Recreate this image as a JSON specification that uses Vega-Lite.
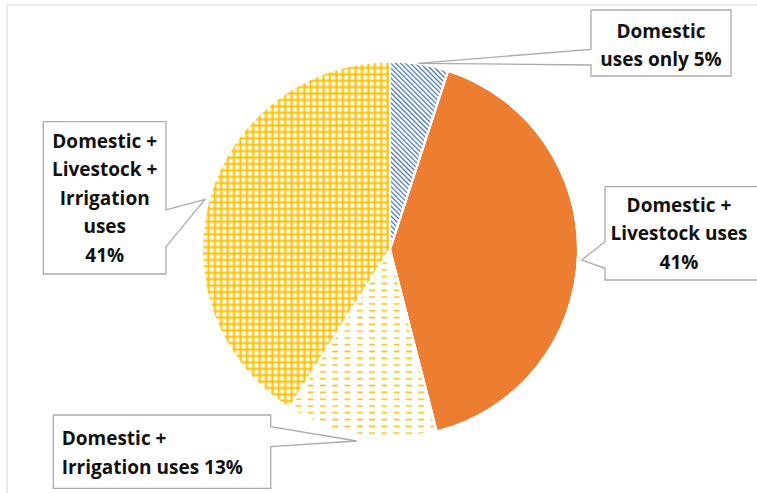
{
"$schema": "https://vega.github.io/schema/vega-lite/v6.json",
"width": 757, "height": 493, "autosize": {"type": "none"}, "padding": 0,
"background": "#ffffff",
"config": {"view": {"stroke": null}},
"datasets": {
"slices": [
{"id": 1, "category": "Domestic uses only", "value": 5},
{"id": 2, "category": "Domestic + Livestock uses", "value": 41},
{"id": 3, "category": "Domestic + Irrigation uses", "value": 13},
{"id": 4, "category": "Domestic + Livestock + Irrigation uses", "value": 41}
],
"frame": [{"x": -203.72, "y": 130.05, "x2": 271.3, "y2": -239.6}],
"bubbles": [
{"b": 1, "s": 1, "x": 106.91, "y": 127.39},
{"b": 1, "s": 2, "x": 181.38, "y": 127.39},
{"b": 1, "s": 3, "x": 181.38, "y": 92.29},
{"b": 1, "s": 4, "x": 106.91, "y": 92.29},
{"b": 1, "s": 5, "x": 106.91, "y": 98.14},
{"b": 1, "s": 6, "x": 15.05, "y": 99.04},
{"b": 1, "s": 7, "x": 106.91, "y": 106.49},
{"b": 1, "s": 8, "x": 106.91, "y": 127.39},
{"b": 4, "s": 1, "x": -184.41, "y": 67.98},
{"b": 4, "s": 2, "x": -119.15, "y": 67.98},
{"b": 4, "s": 3, "x": -119.15, "y": 21.01},
{"b": 4, "s": 4, "x": -98.4, "y": 26.7},
{"b": 4, "s": 5, "x": -119.15, "y": 1.49},
{"b": 4, "s": 6, "x": -119.15, "y": -13.03},
{"b": 4, "s": 7, "x": -184.41, "y": -13.03},
{"b": 4, "s": 8, "x": -184.41, "y": 67.98},
{"b": 2, "s": 1, "x": 114.36, "y": 33.4},
{"b": 2, "s": 2, "x": 207.45, "y": 33.4},
{"b": 2, "s": 3, "x": 207.45, "y": -16.22},
{"b": 2, "s": 4, "x": 114.36, "y": -16.22},
{"b": 2, "s": 5, "x": 114.36, "y": -10.0},
{"b": 2, "s": 6, "x": 101.97, "y": -5.59},
{"b": 2, "s": 7, "x": 114.36, "y": 4.15},
{"b": 2, "s": 8, "x": 114.36, "y": 33.4},
{"b": 3, "s": 1, "x": -179.1, "y": -88.03},
{"b": 3, "s": 2, "x": -63.46, "y": -88.03},
{"b": 3, "s": 3, "x": -63.46, "y": -94.26},
{"b": 3, "s": 4, "x": -17.71, "y": -101.86},
{"b": 3, "s": 5, "x": -63.46, "y": -104.89},
{"b": 3, "s": 6, "x": -63.46, "y": -127.02},
{"b": 3, "s": 7, "x": -179.1, "y": -127.02},
{"b": 3, "s": 8, "x": -179.1, "y": -88.03}
],
"labels": [
{"id": 1, "text": "Domestic\nuses only 5%", "x": 144.15, "y": 112.66},
{"id": 2, "text": "Domestic +\nLivestock uses\n41%", "x": 153.72, "y": 20.11},
{"id": 3, "text": "Domestic +\nIrrigation uses 13%", "x": -174.63, "y": -103.99},
{"id": 4, "text": "Domestic +\nLivestock +\nIrrigation\nuses\n41%", "x": -151.76, "y": 54.15}
]
},
"layer": [
{
"data": {"name": "frame"},
"mark": {"type": "rect", "fill": "transparent", "stroke": "#d9d9d9", "strokeWidth": 1},
"encoding": {
"x": {"field": "x", "type": "quantitative", "scale": {"domain": [-207.45, 195.21], "nice": false, "zero": false}, "axis": null},
"x2": {"field": "x2"},
"y": {"field": "y", "type": "quantitative", "scale": {"domain": [-129.52, 132.71], "nice": false, "zero": false}, "axis": null},
"y2": {"field": "y2"}
}
},
{
"data": {"name": "slices"},
"mark": {"type": "arc", "outerRadius": 188, "stroke": "#ffffff", "strokeWidth": 2},
"encoding": {
"theta": {"field": "value", "type": "quantitative", "stack": true},
"order": {"field": "id", "type": "quantitative"},
"x": {"datum": 0, "type": "quantitative", "scale": {"domain": [-207.45, 195.21], "nice": false, "zero": false}, "axis": null},
"y": {"datum": 0, "type": "quantitative", "scale": {"domain": [-129.52, 132.71], "nice": false, "zero": false}, "axis": null},
"fill": {
"condition": [
{"test": "datum.id === 1", "value": {"gradient": "linear", "x1": 0, "y1": 1, "x2": 0.3693, "y2": -0.195, "stops": [
{"offset":0,"color":"#4472c4"},{"offset":0.007,"color":"#fff"},{"offset":0.013,"color":"#fff"},
{"offset":0.02,"color":"#4472c4"},{"offset":0.027,"color":"#fff"},{"offset":0.033,"color":"#fff"},
{"offset":0.04,"color":"#4472c4"},{"offset":0.047,"color":"#fff"},{"offset":0.053,"color":"#fff"},
{"offset":0.06,"color":"#4472c4"},{"offset":0.067,"color":"#fff"},{"offset":0.073,"color":"#fff"},
{"offset":0.08,"color":"#4472c4"},{"offset":0.087,"color":"#fff"},{"offset":0.093,"color":"#fff"},
{"offset":0.1,"color":"#4472c4"},{"offset":0.107,"color":"#fff"},{"offset":0.113,"color":"#fff"},
{"offset":0.12,"color":"#4472c4"},{"offset":0.127,"color":"#fff"},{"offset":0.133,"color":"#fff"},
{"offset":0.14,"color":"#4472c4"},{"offset":0.147,"color":"#fff"},{"offset":0.153,"color":"#fff"},
{"offset":0.16,"color":"#4472c4"},{"offset":0.167,"color":"#fff"},{"offset":0.173,"color":"#fff"},
{"offset":0.18,"color":"#4472c4"},{"offset":0.187,"color":"#fff"},{"offset":0.193,"color":"#fff"},
{"offset":0.2,"color":"#4472c4"},{"offset":0.207,"color":"#fff"},{"offset":0.213,"color":"#fff"},
{"offset":0.22,"color":"#4472c4"},{"offset":0.227,"color":"#fff"},{"offset":0.233,"color":"#fff"},
{"offset":0.24,"color":"#4472c4"},{"offset":0.247,"color":"#fff"},{"offset":0.253,"color":"#fff"},
{"offset":0.26,"color":"#4472c4"},{"offset":0.267,"color":"#fff"},{"offset":0.273,"color":"#fff"},
{"offset":0.28,"color":"#4472c4"},{"offset":0.287,"color":"#fff"},{"offset":0.293,"color":"#fff"},
{"offset":0.3,"color":"#4472c4"},{"offset":0.307,"color":"#fff"},{"offset":0.313,"color":"#fff"},
{"offset":0.32,"color":"#4472c4"},{"offset":0.327,"color":"#fff"},{"offset":0.333,"color":"#fff"},
{"offset":0.34,"color":"#4472c4"},{"offset":0.347,"color":"#fff"},{"offset":0.353,"color":"#fff"},
{"offset":0.36,"color":"#4472c4"},{"offset":0.367,"color":"#fff"},{"offset":0.373,"color":"#fff"},
{"offset":0.38,"color":"#4472c4"},{"offset":0.387,"color":"#fff"},{"offset":0.393,"color":"#fff"},
{"offset":0.4,"color":"#4472c4"},{"offset":0.407,"color":"#fff"},{"offset":0.413,"color":"#fff"},
{"offset":0.42,"color":"#4472c4"},{"offset":0.427,"color":"#fff"},{"offset":0.433,"color":"#fff"},
{"offset":0.44,"color":"#4472c4"},{"offset":0.447,"color":"#fff"},{"offset":0.453,"color":"#fff"},
{"offset":0.46,"color":"#4472c4"},{"offset":0.467,"color":"#fff"},{"offset":0.473,"color":"#fff"},
{"offset":0.48,"color":"#4472c4"},{"offset":0.487,"color":"#fff"},{"offset":0.493,"color":"#fff"},
{"offset":0.5,"color":"#4472c4"},{"offset":0.507,"color":"#fff"},{"offset":0.513,"color":"#fff"},
{"offset":0.52,"color":"#4472c4"},{"offset":0.527,"color":"#fff"},{"offset":0.533,"color":"#fff"},
{"offset":0.54,"color":"#4472c4"},{"offset":0.547,"color":"#fff"},{"offset":0.553,"color":"#fff"},
{"offset":0.56,"color":"#4472c4"},{"offset":0.567,"color":"#fff"},{"offset":0.573,"color":"#fff"},
{"offset":0.58,"color":"#4472c4"},{"offset":0.587,"color":"#fff"},{"offset":0.593,"color":"#fff"},
{"offset":0.6,"color":"#4472c4"},{"offset":0.607,"color":"#fff"},{"offset":0.613,"color":"#fff"},
{"offset":0.62,"color":"#4472c4"},{"offset":0.627,"color":"#fff"},{"offset":0.633,"color":"#fff"},
{"offset":0.64,"color":"#4472c4"},{"offset":0.647,"color":"#fff"},{"offset":0.653,"color":"#fff"},
{"offset":0.66,"color":"#4472c4"},{"offset":0.667,"color":"#fff"},{"offset":0.673,"color":"#fff"},
{"offset":0.68,"color":"#4472c4"},{"offset":0.687,"color":"#fff"},{"offset":0.693,"color":"#fff"},
{"offset":0.7,"color":"#4472c4"},{"offset":0.707,"color":"#fff"},{"offset":0.713,"color":"#fff"},
{"offset":0.72,"color":"#4472c4"},{"offset":0.727,"color":"#fff"},{"offset":0.733,"color":"#fff"},
{"offset":0.74,"color":"#4472c4"},{"offset":0.747,"color":"#fff"},{"offset":0.753,"color":"#fff"},
{"offset":0.76,"color":"#4472c4"},{"offset":0.767,"color":"#fff"},{"offset":0.773,"color":"#fff"},
{"offset":0.78,"color":"#4472c4"},{"offset":0.787,"color":"#fff"},{"offset":0.793,"color":"#fff"},
{"offset":0.8,"color":"#4472c4"},{"offset":0.807,"color":"#fff"},{"offset":0.813,"color":"#fff"},
{"offset":0.82,"color":"#4472c4"},{"offset":0.827,"color":"#fff"},{"offset":0.833,"color":"#fff"},
{"offset":0.84,"color":"#4472c4"},{"offset":0.847,"color":"#fff"},{"offset":0.853,"color":"#fff"},
{"offset":0.86,"color":"#4472c4"},{"offset":0.867,"color":"#fff"},{"offset":0.873,"color":"#fff"},
{"offset":0.88,"color":"#4472c4"},{"offset":0.887,"color":"#fff"},{"offset":0.893,"color":"#fff"},
{"offset":0.9,"color":"#4472c4"},{"offset":0.907,"color":"#fff"},{"offset":0.913,"color":"#fff"},
{"offset":0.92,"color":"#4472c4"},{"offset":0.927,"color":"#fff"},{"offset":0.933,"color":"#fff"},
{"offset":0.94,"color":"#4472c4"},{"offset":0.947,"color":"#fff"},{"offset":0.953,"color":"#fff"},
{"offset":0.96,"color":"#4472c4"},{"offset":0.967,"color":"#fff"},{"offset":0.973,"color":"#fff"},
{"offset":0.98,"color":"#4472c4"},{"offset":0.987,"color":"#fff"},{"offset":0.993,"color":"#fff"},
{"offset":1,"color":"#4472c4"}
]}},
{"test": "datum.id === 3", "value": {"gradient": "linear", "x1": 0, "y1": 0, "x2": 0, "y2": 2.01, "stops": [
{"offset":0,"color":"#ffc000"},{"offset":0.004,"color":"#fff"},{"offset":0.014,"color":"#fff"},
{"offset":0.018,"color":"#ffc000"},{"offset":0.022,"color":"#fff"},{"offset":0.032,"color":"#fff"},
{"offset":0.036,"color":"#ffc000"},{"offset":0.04,"color":"#fff"},{"offset":0.05,"color":"#fff"},
{"offset":0.054,"color":"#ffc000"},{"offset":0.058,"color":"#fff"},{"offset":0.068,"color":"#fff"},
{"offset":0.072,"color":"#ffc000"},{"offset":0.076,"color":"#fff"},{"offset":0.086,"color":"#fff"},
{"offset":0.09,"color":"#ffc000"},{"offset":0.094,"color":"#fff"},{"offset":0.104,"color":"#fff"},
{"offset":0.108,"color":"#ffc000"},{"offset":0.112,"color":"#fff"},{"offset":0.122,"color":"#fff"},
{"offset":0.126,"color":"#ffc000"},{"offset":0.13,"color":"#fff"},{"offset":0.14,"color":"#fff"},
{"offset":0.144,"color":"#ffc000"},{"offset":0.148,"color":"#fff"},{"offset":0.158,"color":"#fff"},
{"offset":0.162,"color":"#ffc000"},{"offset":0.166,"color":"#fff"},{"offset":0.176,"color":"#fff"},
{"offset":0.18,"color":"#ffc000"},{"offset":0.184,"color":"#fff"},{"offset":0.194,"color":"#fff"},
{"offset":0.198,"color":"#ffc000"},{"offset":0.202,"color":"#fff"},{"offset":0.212,"color":"#fff"},
{"offset":0.216,"color":"#ffc000"},{"offset":0.22,"color":"#fff"},{"offset":0.23,"color":"#fff"},
{"offset":0.234,"color":"#ffc000"},{"offset":0.238,"color":"#fff"},{"offset":0.248,"color":"#fff"},
{"offset":0.252,"color":"#ffc000"},{"offset":0.256,"color":"#fff"},{"offset":0.266,"color":"#fff"},
{"offset":0.27,"color":"#ffc000"},{"offset":0.274,"color":"#fff"},{"offset":0.284,"color":"#fff"},
{"offset":0.288,"color":"#ffc000"},{"offset":0.292,"color":"#fff"},{"offset":0.302,"color":"#fff"},
{"offset":0.306,"color":"#ffc000"},{"offset":0.31,"color":"#fff"},{"offset":0.32,"color":"#fff"},
{"offset":0.324,"color":"#ffc000"},{"offset":0.328,"color":"#fff"},{"offset":0.338,"color":"#fff"},
{"offset":0.342,"color":"#ffc000"},{"offset":0.346,"color":"#fff"},{"offset":0.356,"color":"#fff"},
{"offset":0.36,"color":"#ffc000"},{"offset":0.364,"color":"#fff"},{"offset":0.374,"color":"#fff"},
{"offset":0.378,"color":"#ffc000"},{"offset":0.382,"color":"#fff"},{"offset":0.392,"color":"#fff"},
{"offset":0.396,"color":"#ffc000"},{"offset":0.4,"color":"#fff"},{"offset":0.41,"color":"#fff"},
{"offset":0.414,"color":"#ffc000"},{"offset":0.418,"color":"#fff"},{"offset":0.428,"color":"#fff"},
{"offset":0.432,"color":"#ffc000"},{"offset":0.436,"color":"#fff"},{"offset":0.446,"color":"#fff"},
{"offset":0.45,"color":"#ffc000"},{"offset":0.454,"color":"#fff"},{"offset":0.464,"color":"#fff"},
{"offset":0.468,"color":"#ffc000"},{"offset":0.472,"color":"#fff"},{"offset":0.482,"color":"#fff"},
{"offset":0.486,"color":"#ffc000"},{"offset":0.49,"color":"#fff"},{"offset":0.5,"color":"#fff"},
{"offset":0.504,"color":"#ffc000"},{"offset":0.508,"color":"#fff"}
]}},
{"test": "datum.id === 4", "value": {"gradient": "linear", "x1": 0, "y1": 0, "x2": 0, "y2": 1.0257, "stops": [
{"offset":0,"color":"#ffc000"},{"offset":0.006,"color":"#fff"},{"offset":0.012,"color":"#fff"},
{"offset":0.018,"color":"#ffc000"},{"offset":0.024,"color":"#fff"},{"offset":0.03,"color":"#fff"},
{"offset":0.036,"color":"#ffc000"},{"offset":0.042,"color":"#fff"},{"offset":0.048,"color":"#fff"},
{"offset":0.054,"color":"#ffc000"},{"offset":0.06,"color":"#fff"},{"offset":0.066,"color":"#fff"},
{"offset":0.072,"color":"#ffc000"},{"offset":0.078,"color":"#fff"},{"offset":0.084,"color":"#fff"},
{"offset":0.09,"color":"#ffc000"},{"offset":0.096,"color":"#fff"},{"offset":0.102,"color":"#fff"},
{"offset":0.108,"color":"#ffc000"},{"offset":0.114,"color":"#fff"},{"offset":0.12,"color":"#fff"},
{"offset":0.126,"color":"#ffc000"},{"offset":0.132,"color":"#fff"},{"offset":0.138,"color":"#fff"},
{"offset":0.144,"color":"#ffc000"},{"offset":0.15,"color":"#fff"},{"offset":0.156,"color":"#fff"},
{"offset":0.162,"color":"#ffc000"},{"offset":0.168,"color":"#fff"},{"offset":0.174,"color":"#fff"},
{"offset":0.18,"color":"#ffc000"},{"offset":0.186,"color":"#fff"},{"offset":0.192,"color":"#fff"},
{"offset":0.198,"color":"#ffc000"},{"offset":0.204,"color":"#fff"},{"offset":0.21,"color":"#fff"},
{"offset":0.216,"color":"#ffc000"},{"offset":0.222,"color":"#fff"},{"offset":0.228,"color":"#fff"},
{"offset":0.234,"color":"#ffc000"},{"offset":0.24,"color":"#fff"},{"offset":0.246,"color":"#fff"},
{"offset":0.252,"color":"#ffc000"},{"offset":0.258,"color":"#fff"},{"offset":0.264,"color":"#fff"},
{"offset":0.27,"color":"#ffc000"},{"offset":0.276,"color":"#fff"},{"offset":0.282,"color":"#fff"},
{"offset":0.288,"color":"#ffc000"},{"offset":0.294,"color":"#fff"},{"offset":0.3,"color":"#fff"},
{"offset":0.306,"color":"#ffc000"},{"offset":0.312,"color":"#fff"},{"offset":0.318,"color":"#fff"},
{"offset":0.324,"color":"#ffc000"},{"offset":0.33,"color":"#fff"},{"offset":0.336,"color":"#fff"},
{"offset":0.342,"color":"#ffc000"},{"offset":0.348,"color":"#fff"},{"offset":0.354,"color":"#fff"},
{"offset":0.36,"color":"#ffc000"},{"offset":0.366,"color":"#fff"},{"offset":0.372,"color":"#fff"},
{"offset":0.378,"color":"#ffc000"},{"offset":0.384,"color":"#fff"},{"offset":0.39,"color":"#fff"},
{"offset":0.396,"color":"#ffc000"},{"offset":0.402,"color":"#fff"},{"offset":0.408,"color":"#fff"},
{"offset":0.414,"color":"#ffc000"},{"offset":0.42,"color":"#fff"},{"offset":0.426,"color":"#fff"},
{"offset":0.432,"color":"#ffc000"},{"offset":0.438,"color":"#fff"},{"offset":0.444,"color":"#fff"},
{"offset":0.45,"color":"#ffc000"},{"offset":0.456,"color":"#fff"},{"offset":0.462,"color":"#fff"},
{"offset":0.468,"color":"#ffc000"},{"offset":0.474,"color":"#fff"},{"offset":0.48,"color":"#fff"},
{"offset":0.486,"color":"#ffc000"},{"offset":0.492,"color":"#fff"},{"offset":0.498,"color":"#fff"},
{"offset":0.504,"color":"#ffc000"},{"offset":0.51,"color":"#fff"},{"offset":0.516,"color":"#fff"},
{"offset":0.522,"color":"#ffc000"},{"offset":0.528,"color":"#fff"},{"offset":0.534,"color":"#fff"},
{"offset":0.54,"color":"#ffc000"},{"offset":0.546,"color":"#fff"},{"offset":0.552,"color":"#fff"},
{"offset":0.558,"color":"#ffc000"},{"offset":0.564,"color":"#fff"},{"offset":0.57,"color":"#fff"},
{"offset":0.576,"color":"#ffc000"},{"offset":0.582,"color":"#fff"},{"offset":0.588,"color":"#fff"},
{"offset":0.594,"color":"#ffc000"},{"offset":0.6,"color":"#fff"},{"offset":0.606,"color":"#fff"},
{"offset":0.612,"color":"#ffc000"},{"offset":0.618,"color":"#fff"},{"offset":0.624,"color":"#fff"},
{"offset":0.63,"color":"#ffc000"},{"offset":0.636,"color":"#fff"},{"offset":0.642,"color":"#fff"},
{"offset":0.648,"color":"#ffc000"},{"offset":0.654,"color":"#fff"},{"offset":0.66,"color":"#fff"},
{"offset":0.666,"color":"#ffc000"},{"offset":0.672,"color":"#fff"},{"offset":0.678,"color":"#fff"},
{"offset":0.684,"color":"#ffc000"},{"offset":0.69,"color":"#fff"},{"offset":0.696,"color":"#fff"},
{"offset":0.702,"color":"#ffc000"},{"offset":0.708,"color":"#fff"},{"offset":0.714,"color":"#fff"},
{"offset":0.72,"color":"#ffc000"},{"offset":0.726,"color":"#fff"},{"offset":0.732,"color":"#fff"},
{"offset":0.738,"color":"#ffc000"},{"offset":0.744,"color":"#fff"},{"offset":0.75,"color":"#fff"},
{"offset":0.756,"color":"#ffc000"},{"offset":0.762,"color":"#fff"},{"offset":0.768,"color":"#fff"},
{"offset":0.774,"color":"#ffc000"},{"offset":0.78,"color":"#fff"},{"offset":0.786,"color":"#fff"},
{"offset":0.792,"color":"#ffc000"},{"offset":0.798,"color":"#fff"},{"offset":0.804,"color":"#fff"},
{"offset":0.81,"color":"#ffc000"},{"offset":0.816,"color":"#fff"},{"offset":0.822,"color":"#fff"},
{"offset":0.828,"color":"#ffc000"},{"offset":0.834,"color":"#fff"},{"offset":0.84,"color":"#fff"},
{"offset":0.846,"color":"#ffc000"},{"offset":0.852,"color":"#fff"},{"offset":0.858,"color":"#fff"},
{"offset":0.864,"color":"#ffc000"},{"offset":0.87,"color":"#fff"},{"offset":0.876,"color":"#fff"},
{"offset":0.882,"color":"#ffc000"},{"offset":0.888,"color":"#fff"},{"offset":0.894,"color":"#fff"},
{"offset":0.9,"color":"#ffc000"},{"offset":0.906,"color":"#fff"},{"offset":0.912,"color":"#fff"},
{"offset":0.918,"color":"#ffc000"},{"offset":0.924,"color":"#fff"},{"offset":0.93,"color":"#fff"},
{"offset":0.936,"color":"#ffc000"},{"offset":0.942,"color":"#fff"},{"offset":0.948,"color":"#fff"},
{"offset":0.954,"color":"#ffc000"},{"offset":0.96,"color":"#fff"},{"offset":0.966,"color":"#fff"},
{"offset":0.972,"color":"#ffc000"},{"offset":0.978,"color":"#fff"},{"offset":0.984,"color":"#fff"},
{"offset":0.99,"color":"#ffc000"},{"offset":0.996,"color":"#fff"},{"offset":1,"color":"#fff"}
]}}
],
"value": "#ed7d31"
}
}
},
{
"data": {"name": "slices"},
"mark": {"type": "arc", "outerRadius": 188, "stroke": "#ffffff", "strokeWidth": 2},
"encoding": {
"theta": {"field": "value", "type": "quantitative", "stack": true},
"order": {"field": "id", "type": "quantitative"},
"x": {"datum": 0, "type": "quantitative", "scale": {"domain": [-207.45, 195.21], "nice": false, "zero": false}, "axis": null},
"y": {"datum": 0, "type": "quantitative", "scale": {"domain": [-129.52, 132.71], "nice": false, "zero": false}, "axis": null},
"fill": {
"condition": [
{"test": "datum.id === 3", "value": {"gradient": "linear", "x1": 0, "y1": 0, "x2": 4.63, "y2": 0, "stops": [
{"offset":0,"color":"#fff"},{"offset":0.0085,"color":"#fff"},{"offset":0.0095,"color":"rgba(255,255,255,0)"},{"offset":0.017,"color":"rgba(255,255,255,0)"},
{"offset":0.018,"color":"#fff"},{"offset":0.0265,"color":"#fff"},{"offset":0.0275,"color":"rgba(255,255,255,0)"},{"offset":0.035,"color":"rgba(255,255,255,0)"},
{"offset":0.036,"color":"#fff"},{"offset":0.0445,"color":"#fff"},{"offset":0.0455,"color":"rgba(255,255,255,0)"},{"offset":0.053,"color":"rgba(255,255,255,0)"},
{"offset":0.054,"color":"#fff"},{"offset":0.0625,"color":"#fff"},{"offset":0.0635,"color":"rgba(255,255,255,0)"},{"offset":0.071,"color":"rgba(255,255,255,0)"},
{"offset":0.072,"color":"#fff"},{"offset":0.0805,"color":"#fff"},{"offset":0.0815,"color":"rgba(255,255,255,0)"},{"offset":0.089,"color":"rgba(255,255,255,0)"},
{"offset":0.09,"color":"#fff"},{"offset":0.0985,"color":"#fff"},{"offset":0.0995,"color":"rgba(255,255,255,0)"},{"offset":0.107,"color":"rgba(255,255,255,0)"},
{"offset":0.108,"color":"#fff"},{"offset":0.1165,"color":"#fff"},{"offset":0.1175,"color":"rgba(255,255,255,0)"},{"offset":0.125,"color":"rgba(255,255,255,0)"},
{"offset":0.126,"color":"#fff"},{"offset":0.1345,"color":"#fff"},{"offset":0.1355,"color":"rgba(255,255,255,0)"},{"offset":0.143,"color":"rgba(255,255,255,0)"},
{"offset":0.144,"color":"#fff"},{"offset":0.1525,"color":"#fff"},{"offset":0.1535,"color":"rgba(255,255,255,0)"},{"offset":0.161,"color":"rgba(255,255,255,0)"},
{"offset":0.162,"color":"#fff"},{"offset":0.1705,"color":"#fff"},{"offset":0.1715,"color":"rgba(255,255,255,0)"},{"offset":0.179,"color":"rgba(255,255,255,0)"},
{"offset":0.18,"color":"#fff"},{"offset":0.1885,"color":"#fff"},{"offset":0.1895,"color":"rgba(255,255,255,0)"},{"offset":0.197,"color":"rgba(255,255,255,0)"},
{"offset":0.198,"color":"#fff"},{"offset":0.2065,"color":"#fff"},{"offset":0.2075,"color":"rgba(255,255,255,0)"},{"offset":0.215,"color":"rgba(255,255,255,0)"},
{"offset":0.216,"color":"#fff"},{"offset":0.2245,"color":"#fff"},{"offset":0.2255,"color":"rgba(255,255,255,0)"},{"offset":0.233,"color":"rgba(255,255,255,0)"},
{"offset":0.234,"color":"#fff"}
]}},
{"test": "datum.id === 4", "value": {"gradient": "linear", "x1": 0, "y1": 0, "x2": 1.891, "y2": 0, "stops": [
{"offset":0,"color":"#ffc000"},{"offset":0.006,"color":"rgba(255,192,0,0)"},{"offset":0.012,"color":"rgba(255,192,0,0)"},
{"offset":0.018,"color":"#ffc000"},{"offset":0.024,"color":"rgba(255,192,0,0)"},{"offset":0.03,"color":"rgba(255,192,0,0)"},
{"offset":0.036,"color":"#ffc000"},{"offset":0.042,"color":"rgba(255,192,0,0)"},{"offset":0.048,"color":"rgba(255,192,0,0)"},
{"offset":0.054,"color":"#ffc000"},{"offset":0.06,"color":"rgba(255,192,0,0)"},{"offset":0.066,"color":"rgba(255,192,0,0)"},
{"offset":0.072,"color":"#ffc000"},{"offset":0.078,"color":"rgba(255,192,0,0)"},{"offset":0.084,"color":"rgba(255,192,0,0)"},
{"offset":0.09,"color":"#ffc000"},{"offset":0.096,"color":"rgba(255,192,0,0)"},{"offset":0.102,"color":"rgba(255,192,0,0)"},
{"offset":0.108,"color":"#ffc000"},{"offset":0.114,"color":"rgba(255,192,0,0)"},{"offset":0.12,"color":"rgba(255,192,0,0)"},
{"offset":0.126,"color":"#ffc000"},{"offset":0.132,"color":"rgba(255,192,0,0)"},{"offset":0.138,"color":"rgba(255,192,0,0)"},
{"offset":0.144,"color":"#ffc000"},{"offset":0.15,"color":"rgba(255,192,0,0)"},{"offset":0.156,"color":"rgba(255,192,0,0)"},
{"offset":0.162,"color":"#ffc000"},{"offset":0.168,"color":"rgba(255,192,0,0)"},{"offset":0.174,"color":"rgba(255,192,0,0)"},
{"offset":0.18,"color":"#ffc000"},{"offset":0.186,"color":"rgba(255,192,0,0)"},{"offset":0.192,"color":"rgba(255,192,0,0)"},
{"offset":0.198,"color":"#ffc000"},{"offset":0.204,"color":"rgba(255,192,0,0)"},{"offset":0.21,"color":"rgba(255,192,0,0)"},
{"offset":0.216,"color":"#ffc000"},{"offset":0.222,"color":"rgba(255,192,0,0)"},{"offset":0.228,"color":"rgba(255,192,0,0)"},
{"offset":0.234,"color":"#ffc000"},{"offset":0.24,"color":"rgba(255,192,0,0)"},{"offset":0.246,"color":"rgba(255,192,0,0)"},
{"offset":0.252,"color":"#ffc000"},{"offset":0.258,"color":"rgba(255,192,0,0)"},{"offset":0.264,"color":"rgba(255,192,0,0)"},
{"offset":0.27,"color":"#ffc000"},{"offset":0.276,"color":"rgba(255,192,0,0)"},{"offset":0.282,"color":"rgba(255,192,0,0)"},
{"offset":0.288,"color":"#ffc000"},{"offset":0.294,"color":"rgba(255,192,0,0)"},{"offset":0.3,"color":"rgba(255,192,0,0)"},
{"offset":0.306,"color":"#ffc000"},{"offset":0.312,"color":"rgba(255,192,0,0)"},{"offset":0.318,"color":"rgba(255,192,0,0)"},
{"offset":0.324,"color":"#ffc000"},{"offset":0.33,"color":"rgba(255,192,0,0)"},{"offset":0.336,"color":"rgba(255,192,0,0)"},
{"offset":0.342,"color":"#ffc000"},{"offset":0.348,"color":"rgba(255,192,0,0)"},{"offset":0.354,"color":"rgba(255,192,0,0)"},
{"offset":0.36,"color":"#ffc000"},{"offset":0.366,"color":"rgba(255,192,0,0)"},{"offset":0.372,"color":"rgba(255,192,0,0)"},
{"offset":0.378,"color":"#ffc000"},{"offset":0.384,"color":"rgba(255,192,0,0)"},{"offset":0.39,"color":"rgba(255,192,0,0)"},
{"offset":0.396,"color":"#ffc000"},{"offset":0.402,"color":"rgba(255,192,0,0)"},{"offset":0.408,"color":"rgba(255,192,0,0)"},
{"offset":0.414,"color":"#ffc000"},{"offset":0.42,"color":"rgba(255,192,0,0)"},{"offset":0.426,"color":"rgba(255,192,0,0)"},
{"offset":0.432,"color":"#ffc000"},{"offset":0.438,"color":"rgba(255,192,0,0)"},{"offset":0.444,"color":"rgba(255,192,0,0)"},
{"offset":0.45,"color":"#ffc000"},{"offset":0.456,"color":"rgba(255,192,0,0)"},{"offset":0.462,"color":"rgba(255,192,0,0)"},
{"offset":0.468,"color":"#ffc000"},{"offset":0.474,"color":"rgba(255,192,0,0)"},{"offset":0.48,"color":"rgba(255,192,0,0)"},
{"offset":0.486,"color":"#ffc000"},{"offset":0.492,"color":"rgba(255,192,0,0)"},{"offset":0.498,"color":"rgba(255,192,0,0)"},
{"offset":0.504,"color":"#ffc000"},{"offset":0.51,"color":"rgba(255,192,0,0)"},{"offset":0.516,"color":"rgba(255,192,0,0)"},
{"offset":0.522,"color":"#ffc000"},{"offset":0.528,"color":"rgba(255,192,0,0)"},{"offset":0.534,"color":"rgba(255,192,0,0)"},
{"offset":0.54,"color":"#ffc000"},{"offset":0.546,"color":"rgba(255,192,0,0)"}
]}}
],
"value": null
}
}
},
{
"data": {"name": "bubbles"},
"mark": {"type": "line", "color": "#ababab", "strokeWidth": 1.3, "interpolate": "linear"},
"encoding": {
"x": {"field": "x", "type": "quantitative", "scale": {"domain": [-207.45, 195.21], "nice": false, "zero": false}, "axis": null},
"y": {"field": "y", "type": "quantitative", "scale": {"domain": [-129.52, 132.71], "nice": false, "zero": false}, "axis": null},
"detail": {"field": "b", "type": "nominal"},
"order": {"field": "s", "type": "quantitative"}
}
},
{
"data": {"name": "labels"},
"transform": [{"filter": "datum.id !== 3"}],
"mark": {"type": "text", "align": "center", "baseline": "alphabetic", "lineBreak": "\n", "lineHeight": 28.5, "font": "Open Sans", "fontWeight": "bold", "fontSize": 19, "color": "#111111"},
"encoding": {
"x": {"field": "x", "type": "quantitative", "scale": {"domain": [-207.45, 195.21], "nice": false, "zero": false}, "axis": null},
"y": {"field": "y", "type": "quantitative", "scale": {"domain": [-129.52, 132.71], "nice": false, "zero": false}, "axis": null},
"text": {"field": "text", "type": "nominal"}
}
},
{
"data": {"name": "labels"},
"transform": [{"filter": "datum.id === 3"}],
"mark": {"type": "text", "align": "left", "baseline": "alphabetic", "lineBreak": "\n", "lineHeight": 28.5, "font": "Open Sans", "fontWeight": "bold", "fontSize": 19, "color": "#111111"},
"encoding": {
"x": {"field": "x", "type": "quantitative", "scale": {"domain": [-207.45, 195.21], "nice": false, "zero": false}, "axis": null},
"y": {"field": "y", "type": "quantitative", "scale": {"domain": [-129.52, 132.71], "nice": false, "zero": false}, "axis": null},
"text": {"field": "text", "type": "nominal"}
}
}
]
}
